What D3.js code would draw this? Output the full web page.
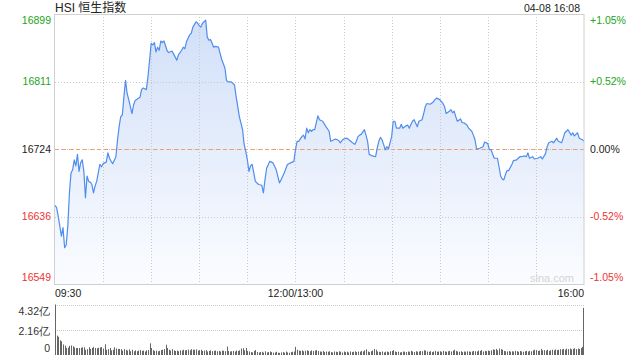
<!DOCTYPE html>
<html>
<head>
<meta charset="utf-8">
<script src="https://cdn.jsdelivr.net/npm/d3@7"></script>
<style>
  body { margin: 0; background: #fff; }
  svg text { font-family: "Liberation Sans", Arial, sans-serif; }
</style>
</head>
<body>
<div id="chart"></div>
<script>
// trading minute since 09:30 (lunch break skipped) and HSI level
var minuteIdx = [0,1,2,4,5,6,7,8,9,10,11,12,13,14,15,16,17,18,19,20,21,22,23,24,25,26,27,28,29,30,
  32,33,34,35,36,38,39,40,41,42,43,44,45,46,48,49,50,53,54,55,57,58,59,60,61,62,63,64,65,66,
  67,68,70,71,73,74,76,77,79,80,81,82,84,85,86,88,89,90,91,92,94,95,96,97,98,99,100,102,103,104,
  106,107,108,110,112,113,114,115,117,118,119,120,121,122,123,124,125,127,129,130,131,132,134,136,138,140,141,143,145,147,
  149,150,151,152,154,155,156,157,158,159,160,161,162,164,165,167,169,171,172,174,175,177,178,179,180,182,184,185,187,188,
  189,190,191,193,194,195,196,198,200,201,202,203,204,205,206,207,208,209,210,211,212,213,215,216,217,219,220,221,223,224,
  226,227,229,230,231,232,234,236,237,238,240,242,243,244,246,247,248,249,250,251,253,254,255,257,258,260,261,262,263,265,
  267,268,270,271,272,274,276,277,278,279,280,281,282,283,285,286,288,290,291,293,294,295,296,298,299,301,303,304,306,307,
  308,310,311,313,314,316,317,318,320,322,323,324,326,327,329,330];
var hsiLevel = [16651,16648,16637,16611,16622,16596,16600,16624,16667,16693,16697,16710,16702,16717,16695,16706,16710,16695,16661,16689,16682,16681,16678,16667,16676,16682,16693,16704,16701,16705,
  16707,16719,16712,16708,16705,16714,16736,16753,16766,16768,16792,16813,16796,16788,16770,16781,16787,16791,16801,16803,16801,16818,16839,16861,16859,16862,16850,16856,16852,16864,
  16862,16864,16851,16849,16851,16847,16839,16846,16852,16856,16854,16863,16872,16874,16882,16889,16887,16884,16882,16887,16891,16869,16865,16866,16861,16856,16857,16856,16848,16840,
  16829,16813,16811,16811,16807,16792,16779,16766,16749,16730,16721,16710,16695,16702,16704,16693,16682,16678,16677,16667,16684,16699,16708,16706,16697,16680,16684,16693,16704,16706,
  16708,16723,16734,16734,16740,16742,16737,16751,16745,16749,16747,16749,16749,16767,16762,16760,16753,16747,16734,16736,16737,16735,16732,16735,16737,16738,16735,16733,16730,16734,
  16740,16742,16743,16749,16742,16734,16717,16715,16714,16725,16734,16739,16736,16730,16723,16727,16724,16732,16740,16760,16760,16751,16751,16756,16751,16754,16755,16751,16760,16762,
  16753,16760,16762,16770,16779,16783,16782,16785,16788,16790,16788,16783,16779,16770,16773,16775,16771,16773,16766,16760,16763,16758,16758,16755,16751,16747,16742,16736,16724,16725,
  16727,16733,16731,16723,16723,16712,16712,16701,16689,16685,16684,16691,16696,16696,16704,16709,16710,16714,16714,16715,16714,16719,16712,16714,16711,16712,16714,16711,16718,16727,
  16732,16734,16732,16738,16734,16732,16738,16745,16749,16742,16745,16741,16745,16738,16736,16734];

// turnover per minute (亿), minute 0..330; the last one holds the closing auction
var volMinute = [
  4.32,1.66,1.56,1.25,1.17,0.90,0.80,0.60,0.62,0.78,
  0.82,0.75,0.65,0.60,0.60,0.60,0.62,0.65,0.66,0.45,
  0.50,0.66,0.52,0.60,0.70,0.60,0.58,0.62,0.65,0.68,
  0.55,0.92,0.45,0.50,0.60,0.40,0.45,0.66,0.55,0.52,
  0.52,0.50,0.38,0.50,0.45,0.38,0.48,0.32,0.45,0.32,
  0.40,0.32,0.38,0.42,0.35,0.38,0.30,0.40,0.42,1.00,
  0.60,0.42,0.35,0.38,0.32,0.35,0.42,0.45,0.50,0.88,
  0.60,0.45,0.38,0.50,0.40,0.35,0.38,0.32,0.40,0.38,
  0.45,0.40,0.42,0.46,0.40,0.50,0.45,0.45,0.48,0.38,
  0.42,0.45,0.35,0.38,0.42,0.30,0.35,0.40,0.33,0.36,
  0.38,0.32,0.35,0.30,0.38,0.36,0.33,0.72,0.35,0.30,
  0.32,0.35,0.30,0.38,0.35,0.40,0.55,0.58,0.40,0.60,
  0.35,0.30,0.25,0.22,0.35,0.42,0.25,0.22,0.25,0.28,
  0.20,0.32,0.22,0.25,0.30,0.25,0.20,0.22,0.28,0.20,
  0.18,0.22,0.25,0.20,0.30,0.22,0.20,0.25,0.28,0.30,
  0.70,0.45,0.38,0.35,0.40,0.32,0.36,0.40,0.35,0.32,
  0.40,0.35,0.38,0.42,0.35,0.30,0.28,0.35,0.25,0.30,
  0.28,0.32,0.25,0.22,0.30,0.28,0.25,0.32,0.28,0.22,
  0.30,0.25,0.28,0.22,0.30,0.25,0.28,0.32,0.25,0.30,
  0.28,0.35,0.30,0.40,0.48,0.30,0.25,0.32,0.38,0.52,
  0.45,0.30,0.28,0.25,0.30,0.22,0.28,0.30,0.25,0.32,
  0.35,0.42,0.30,0.25,0.28,0.22,0.25,0.30,0.28,0.25,
  0.30,0.28,0.35,0.30,0.25,0.32,0.28,0.30,0.35,0.32,
  0.40,0.38,0.30,0.28,0.32,0.25,0.30,0.35,0.28,0.30,
  0.32,0.28,0.35,0.30,0.28,0.32,0.35,0.30,0.38,0.45,
  0.35,0.30,0.28,0.32,0.25,0.30,0.28,0.32,0.30,0.28,
  0.30,0.35,0.32,0.30,0.38,0.35,0.42,0.30,0.35,0.32,
  0.38,0.35,0.40,0.48,0.45,0.52,0.40,0.55,0.50,0.45,
  0.35,0.32,0.30,0.35,0.28,0.32,0.30,0.35,0.32,0.28,
  0.35,0.30,0.28,0.32,0.35,0.30,0.35,0.32,0.40,0.45,
  0.42,0.35,0.38,0.52,0.40,0.42,0.38,0.45,0.35,0.40,
  0.45,0.40,0.48,0.42,0.45,0.50,0.48,0.52,0.45,0.55,
  0.50,0.55,0.48,0.52,0.58,0.50,0.55,0.52,0.60,0.70,
  4.04];

var prevClose = 16724;
var priceTicks = [16899, 16811.5, 16724, 16636.5, 16549];
var priceLabels = ["16899", "16811", "16724", "16636", "16549"];
var pctLabels = ["+1.05%", "+0.52%", "0.00%", "-0.52%", "-1.05%"];
var gridMinutes = [30, 60, 90, 120, 150, 180, 210, 240, 270, 300];
var timeTicks = [0, 150, 330];
var timeLabels = ["09:30", "12:00/13:00", "16:00"];
var volTicks = [4.32, 2.16, 0];
var volLabels = ["4.32亿", "2.16亿", "0"];

var svgWidth = 640, svgHeight = 360;
var plot = { left: 55, right: 584, top: 14, bottom: 284 };
var volBox = { top: 304.5, bottom: 355 };

var svg = d3.select("#chart").append("svg")
  .attr("width", svgWidth)
  .attr("height", svgHeight);

var x = d3.scaleLinear().domain([0, 330]).range([plot.left, plot.right]);
var y = d3.scaleLinear().domain([16549, 16899]).range([plot.bottom, plot.top]);
var yVol = d3.scaleLinear().domain([0, 4.32]).range([volBox.bottom, volBox.top]);

function labelColor(i) {
  if (i < 2) return "#22a522";
  if (i == 2) return "#222";
  return "#ee3333";
}
// first / last labels are pushed inside the frame
function labelShift(i) {
  if (i == 0) return 6;
  if (i == priceTicks.length - 1) return -7;
  return 0;
}

// gradient under the line
var grad = svg.append("defs").append("linearGradient")
  .attr("id", "areaFill")
  .attr("gradientUnits", "userSpaceOnUse")
  .attr("x1", 0).attr("y1", plot.top)
  .attr("x2", 0).attr("y2", plot.bottom);
grad.append("stop").attr("offset", "0%").attr("stop-color", "#d0dff8");
grad.append("stop").attr("offset", "100%").attr("stop-color", "#fbfcff");

var pts = minuteIdx.map(function(m, i) { return [m, hsiLevel[i]]; });

svg.append("path")
  .datum(pts)
  .attr("fill", "url(#areaFill)")
  .attr("d", d3.area()
    .x(d => x(d[0]))
    .y0(plot.bottom)
    .y1(d => y(d[1])));

// grid
svg.selectAll(".vgrid")
  .data(gridMinutes)
  .enter().append("line")
  .attr("x1", d => Math.round(x(d)) + 0.5)
  .attr("x2", d => Math.round(x(d)) + 0.5)
  .attr("y1", plot.top)
  .attr("y2", plot.bottom)
  .attr("stroke", "#c8c8c8")
  .attr("stroke-dasharray", "1,2");

svg.selectAll(".hgrid")
  .data(priceTicks.slice(1, 4))
  .enter().append("line")
  .attr("x1", plot.left)
  .attr("x2", plot.right)
  .attr("y1", d => Math.round(y(d)) + 0.5)
  .attr("y2", d => Math.round(y(d)) + 0.5)
  .attr("stroke", "#c8c8c8")
  .attr("stroke-dasharray", "1,2");

// previous close
svg.append("line")
  .attr("x1", plot.left)
  .attr("x2", plot.right)
  .attr("y1", Math.round(y(prevClose)) + 0.5)
  .attr("y2", Math.round(y(prevClose)) + 0.5)
  .attr("stroke", "#f0a070")
  .attr("stroke-dasharray", "4,3");

// price line
svg.append("path")
  .datum(pts)
  .attr("fill", "none")
  .attr("stroke", "#4f8ded")
  .attr("stroke-width", 1.2)
  .attr("stroke-linejoin", "round")
  .attr("d", d3.line().x(d => x(d[0])).y(d => y(d[1])));

// frame
svg.append("rect")
  .attr("x", plot.left - 0.5)
  .attr("y", plot.top + 0.5)
  .attr("width", plot.right - plot.left + 0.5)
  .attr("height", plot.bottom - plot.top)
  .attr("fill", "none")
  .attr("stroke", "#d0d0d0");

// left axis labels
svg.selectAll(".plab")
  .data(priceTicks)
  .enter().append("text")
  .attr("x", 51)
  .attr("y", (d, i) => y(d) + labelShift(i))
  .attr("dy", "0.35em")
  .attr("text-anchor", "end")
  .attr("font-size", "10.5px")
  .attr("fill", (d, i) => labelColor(i))
  .text((d, i) => priceLabels[i]);

// right axis labels
svg.selectAll(".rlab")
  .data(priceTicks)
  .enter().append("text")
  .attr("x", 590)
  .attr("y", (d, i) => y(d) + labelShift(i))
  .attr("dy", "0.35em")
  .attr("font-size", "10.5px")
  .attr("fill", (d, i) => labelColor(i))
  .text((d, i) => pctLabels[i]);

// time labels
svg.selectAll(".tlab")
  .data(timeTicks)
  .enter().append("text")
  .attr("x", d => x(d))
  .attr("y", 297)
  .attr("text-anchor", (d, i) => i == 0 ? "start" : (i == 2 ? "end" : "middle"))
  .attr("font-size", "10.5px")
  .attr("fill", "#222")
  .text((d, i) => timeLabels[i]);

// title and time stamp
svg.append("text")
  .attr("x", 55).attr("y", 12)
  .attr("font-size", "12px")
  .attr("fill", "#222")
  .style("font-family", "'Liberation Sans', 'Noto Sans CJK SC', sans-serif")
  .text("HSI 恒生指数");

svg.append("text")
  .attr("x", 580).attr("y", 12)
  .attr("text-anchor", "end")
  .attr("font-size", "10.5px")
  .attr("fill", "#222")
  .text("04-08 16:08");

svg.append("text")
  .attr("x", 574).attr("y", 282)
  .attr("text-anchor", "end")
  .attr("font-size", "11px")
  .attr("fill", "#d4d4d4")
  .text("sina.com");

// volume panel
svg.selectAll(".vg")
  .data(volTicks.slice(0, 2))
  .enter().append("line")
  .attr("x1", plot.left)
  .attr("x2", plot.right)
  .attr("y1", d => Math.round(yVol(d)) + 0.5)
  .attr("y2", d => Math.round(yVol(d)) + 0.5)
  .attr("stroke", "#c8c8c8")
  .attr("stroke-dasharray", "1,1");

svg.selectAll(".vbar")
  .data(volMinute)
  .enter().append("rect")
  .attr("x", (d, i) => Math.min(Math.round(x(i)), plot.right - 1))
  .attr("y", d => yVol(d))
  .attr("width", 1)
  .attr("height", d => volBox.bottom - yVol(d))
  .attr("fill", "#666");

svg.selectAll(".vlab")
  .data(volTicks)
  .enter().append("text")
  .attr("x", 50)
  .attr("y", (d, i) => yVol(d) + (i == 0 ? 7 : (i == 2 ? -7 : 2)))
  .attr("dy", "0.35em")
  .attr("text-anchor", "end")
  .attr("font-size", "10.5px")
  .attr("fill", "#333")
  .text((d, i) => volLabels[i]);
</script>
</body>
</html>
